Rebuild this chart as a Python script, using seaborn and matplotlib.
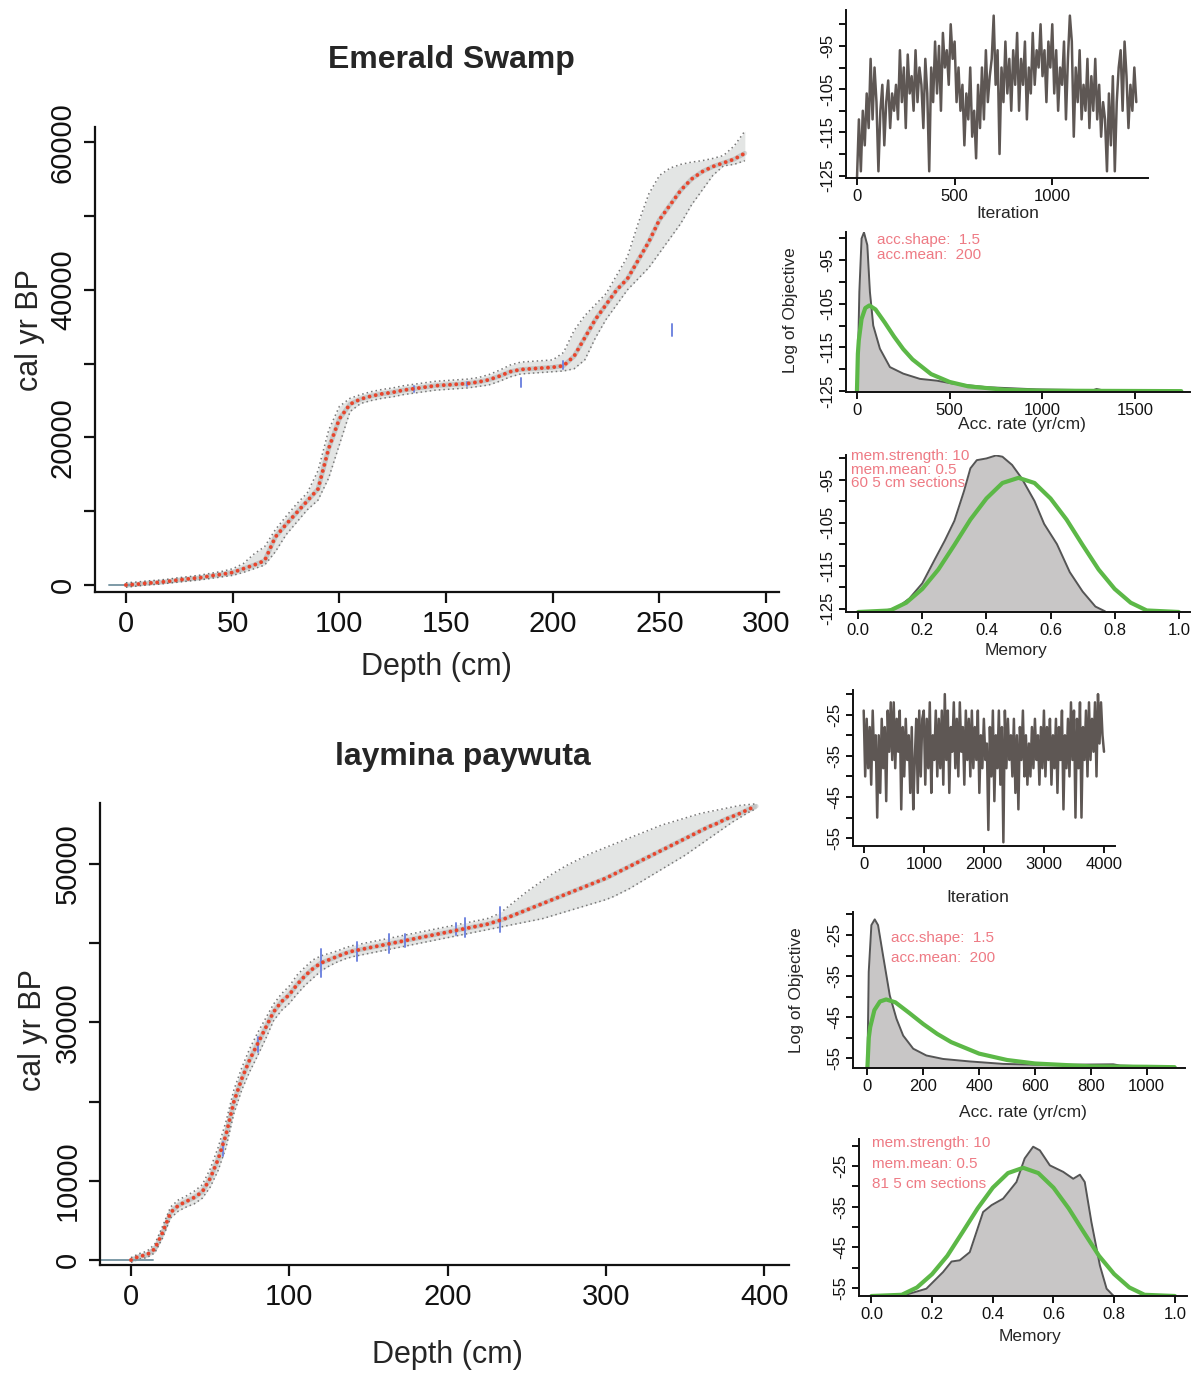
import matplotlib
matplotlib.use("Agg")
import matplotlib.pyplot as plt
import seaborn as sns

sns.set_theme(style="ticks")
plt.rcParams['font.family'] = ['Liberation Sans', 'DejaVu Sans']

# ---------------- data ----------------
# Emerald Swamp age-depth model (5 cm steps)
es_depth = list(range(0, 295, 5))
es_mean = [0, 100, 250, 350, 500, 700, 850, 1000, 1250, 1450, 1700, 2200, 2700, 3300,
           6500, 8200, 9800, 11400, 13000, 18500, 22500, 24500, 25200, 25600, 25900,
           26100, 26400, 26600, 26800, 27000, 27100, 27200, 27300, 27500, 27800, 28300,
           28900, 29200, 29300, 29400, 29500, 29700, 31000, 33500, 36000, 38000, 40000,
           41500, 44000, 46500, 49500, 51500, 53500, 55000, 56000, 56700, 57200, 57700, 58500]
es_hi = [300, 400, 550, 650, 800, 1000, 1150, 1350, 1600, 1850, 2200, 2900, 4200, 5200,
         7500, 9300, 11000, 12500, 15500, 21000, 24200, 25300, 25800, 26200, 26500,
         26700, 27000, 27200, 27400, 27600, 27700, 27800, 27900, 28100, 28500, 29100,
         29800, 30200, 30300, 30400, 30500, 31500, 34500, 36500, 38000, 39500, 42000,
         44500, 49000, 53000, 55500, 56500, 57000, 57300, 57500, 57800, 58200, 59500, 61500]
es_lo = [-300, -150, 0, 100, 250, 400, 550, 700, 900, 1100, 1300, 1700, 2200, 2700,
         4500, 6800, 8500, 10200, 11500, 14500, 19000, 23500, 24600, 25000, 25300,
         25500, 25800, 26000, 26200, 26400, 26500, 26600, 26700, 26900, 27100, 27600,
         28200, 28600, 28700, 28800, 28900, 29000, 29300, 30500, 33500, 36000, 38000,
         40000, 41500, 43000, 45000, 47000, 49000, 51500, 53500, 55500, 56800, 57000, 57500]
es_date_depth = [135, 160, 185, 205, 256]
es_date_age = [26500, 27200, 27400, 29800, 34500]
es_date_err = [400, 300, 600, 500, 800]
es_top_depth = [-8, 2]

# laymina paywuta age-depth model (5 cm steps)
lp_depth = list(range(0, 400, 5))
lp_mean = [0, 450, 650, 1400, 3500, 6000, 6900, 7400, 7900, 8600, 10300, 12700, 15800,
           20000, 22900, 25300, 27300, 29300, 31300, 32600, 33500, 34800, 35900, 36800,
           37500, 37900, 38300, 38700, 39000, 39200, 39400, 39600, 39800, 40000, 40200,
           40400, 40600, 40800, 41000, 41200, 41400, 41600, 41800, 42000, 42200, 42400,
           42700, 43000, 43400, 43800, 44200, 44600, 45000, 45400, 45800, 46200, 46600,
           47000, 47400, 47800, 48200, 48700, 49200, 49700, 50200, 50700, 51200, 51700,
           52200, 52700, 53200, 53700, 54200, 54700, 55100, 55600, 56000, 56400, 56900, 57300]
lp_hi = [300, 800, 1100, 2000, 4300, 6700, 7600, 8100, 8700, 9500, 11500, 14200, 17500,
         21500, 24300, 26700, 28700, 30500, 32300, 33600, 34600, 36000, 37000, 37900,
         38400, 38700, 39000, 39400, 39700, 39900, 40100, 40300, 40500, 40700, 40900,
         41100, 41300, 41500, 41700, 41900, 42100, 42300, 42500, 42700, 42900, 43100,
         43500, 44100, 44900, 45700, 46500, 47200, 47900, 48600, 49200, 49800, 50300,
         50800, 51300, 51700, 52100, 52500, 52900, 53300, 53700, 54100, 54500, 54900,
         55200, 55500, 55800, 56100, 56400, 56600, 56800, 57000, 57200, 57400, 57500, 57600]
lp_lo = [-300, 100, 300, 900, 2800, 5300, 6200, 6700, 7100, 7800, 9200, 11300, 14200,
         18500, 21500, 23800, 25800, 27900, 30200, 31500, 32400, 33600, 34700, 35600,
         36500, 37100, 37600, 38000, 38300, 38500, 38700, 38900, 39100, 39300, 39500,
         39700, 39900, 40100, 40300, 40500, 40700, 40900, 41100, 41300, 41500, 41700,
         41900, 42100, 42300, 42500, 42700, 42900, 43100, 43400, 43700, 44000, 44300,
         44600, 44900, 45200, 45500, 45900, 46400, 46900, 47500, 48100, 48700, 49300,
         49900, 50500, 51100, 51800, 52500, 53200, 53900, 54600, 55300, 55900, 56500, 57000]
lp_date_depth = [58, 80, 120, 143, 163, 173, 205, 211, 233]
lp_date_age = [14000, 27200, 37500, 39000, 40000, 40300, 41800, 42000, 43000]
lp_date_err = [900, 900, 1800, 1200, 1200, 800, 800, 1200, 1600]
lp_top_depth = [-19, 14]

# MCMC traces (log of objective)
es_iter = list(range(0, 1440, 10))
es_trace = [-126, -112, -124, -110, -118, -106, -114, -98, -112, -100,
            -108, -124, -110, -104, -118, -108, -103, -114, -106, -110,
            -104, -112, -96, -108, -100, -114, -97, -106, -102, -110,
            -96, -108, -100, -104, -114, -98, -106, -124, -100, -108,
            -94, -106, -95, -110, -92, -100, -96, -104, -90, -98,
            -94, -108, -100, -110, -104, -118, -106, -112, -100, -116,
            -110, -121, -104, -114, -100, -112, -96, -108, -102, -98,
            -88, -104, -96, -120, -100, -108, -94, -106, -98, -110,
            -96, -104, -92, -110, -98, -104, -94, -112, -100, -106,
            -92, -104, -96, -100, -90, -102, -96, -108, -94, -100,
            -90, -106, -96, -110, -100, -104, -94, -112, -98, -88,
            -94, -116, -100, -108, -96, -112, -104, -110, -98, -114,
            -102, -110, -98, -112, -104, -116, -108, -112, -124, -106,
            -118, -102, -124, -108, -100, -96, -110, -94, -102, -114,
            -104, -110, -100, -108]
lp_iter = list(range(0, 4025, 25))
lp_trace = [-24, -40, -26, -38, -28, -42, -24, -36, -30, -50,
            -30, -44, -26, -38, -28, -46, -24, -34, -22, -36,
            -22, -38, -26, -34, -24, -48, -28, -40, -26, -36,
            -30, -44, -28, -48, -36, -26, -44, -24, -40, -26,
            -24, -42, -26, -38, -22, -44, -30, -36, -24, -40,
            -26, -38, -24, -42, -20, -36, -24, -44, -28, -34,
            -22, -38, -26, -40, -22, -34, -28, -42, -24, -36,
            -26, -40, -24, -38, -28, -36, -24, -44, -30, -38,
            -26, -36, -32, -53, -28, -40, -24, -46, -30, -38,
            -24, -42, -28, -56, -24, -38, -26, -36, -30, -40,
            -26, -44, -30, -48, -28, -36, -24, -40, -30, -42,
            -32, -40, -28, -38, -26, -36, -30, -42, -28, -38,
            -24, -40, -28, -36, -26, -42, -30, -38, -26, -44,
            -28, -36, -24, -48, -30, -38, -26, -40, -22, -36,
            -24, -50, -26, -38, -22, -50, -28, -36, -24, -40,
            -22, -36, -26, -34, -22, -40, -20, -32, -22, -30,
            -34]

# accumulation rate posterior (grey) and prior (green), in axis units
es_acc_x = [2, 13, 25, 38, 56, 70, 88, 124, 178, 250, 340, 430, 520, 700, 969, 1275, 1293, 1329, 1743]
es_acc_y = [-125.0, -102.3, -90.1, -88.7, -91.6, -102.3, -110.0, -115.3, -119.5, -121.0,
            -122.2, -122.6, -123.3, -124.1, -124.6, -124.8, -124.5, -124.85, -125.1]
acc_prior_x = [0, 5, 10, 25, 45, 67, 100, 150, 200, 250, 300, 400, 500, 600, 800, 1000, 1750]
es_prior_y = [-125.0, -116.45, -113.4, -108.5, -106.0, -105.4, -106.3, -109.3, -112.5, -115.4,
              -117.75, -121.1, -122.9, -123.9, -124.7, -124.9, -125.0]
lp_acc_x = [0, 4.7, 14.2, 26.2, 38.1, 56, 80, 104, 128, 164, 211, 271, 366, 486, 605, 725, 880, 904, 1083]
lp_acc_y = [-57.2, -34.0, -22.6, -21.2, -22.6, -30.0, -39.7, -45.4, -49.5, -52.7, -54.35,
            -55.2, -55.8, -56.4, -56.6, -56.6, -56.5, -56.8, -57.2]
lp_prior_x = [0, 5, 10, 25, 45, 67, 100, 150, 200, 250, 300, 400, 500, 600, 800, 1000, 1100]
lp_prior_y = [-57.2, -50.0, -47.45, -43.3, -41.2, -40.7, -41.4, -44.0, -46.7, -49.1, -51.1,
              -53.9, -55.45, -56.3, -57.0, -57.1, -57.2]

# memory posterior (grey) and prior (green)
es_mem_x = [0.07, 0.12, 0.16, 0.20, 0.24, 0.27, 0.30, 0.33, 0.35, 0.37, 0.40, 0.43, 0.45,
            0.48, 0.51, 0.55, 0.58, 0.62, 0.66, 0.70, 0.74, 0.77]
es_mem_y = [-125.6, -124.85, -122.6, -119.1, -113.4, -109.2, -104.6, -97.7, -92.4, -90.5,
            -90.1, -89.4, -89.7, -91.6, -94.7, -100.0, -105.3, -110.0, -116.5, -121.0, -124.5, -125.6]
mem_prior_x = [0.0, 0.1, 0.15, 0.2, 0.25, 0.3, 0.35, 0.4, 0.45, 0.5,
               0.55, 0.6, 0.65, 0.7, 0.75, 0.8, 0.85, 0.9, 1.0]
es_mprior_y = [-125.76, -125.4, -123.6, -120.4, -115.9, -110.2, -104.3, -99.4, -95.8, -94.6,
               -95.8, -99.4, -104.3, -110.2, -115.9, -120.4, -123.6, -125.4, -125.76]
lp_mem_x = [0.104, 0.181, 0.236, 0.264, 0.291, 0.324, 0.368, 0.396, 0.434, 0.478, 0.505,
            0.533, 0.555, 0.588, 0.632, 0.665, 0.687, 0.703, 0.725, 0.753, 0.775, 0.797]
lp_mem_y = [-56.9, -55.2, -51.1, -48.5, -48.2, -46.2, -36.3, -34.6, -33.0, -28.9, -23.1,
            -20.2, -21.1, -24.8, -26.4, -28.1, -27.1, -28.9, -38.8, -49.5, -55.2, -56.9]
lp_mprior_y = [-57.0, -56.7, -54.9, -51.6, -47.1, -41.3, -35.4, -30.3, -26.7, -25.4,
               -26.7, -30.3, -35.4, -41.3, -47.1, -51.6, -54.9, -56.7, -57.0]

es_acc_text = ["acc.shape:  1.5", "acc.mean:  200"]
lp_acc_text = ["acc.shape:  1.5", "acc.mean:  200"]
es_mem_text = ["mem.strength: 10", "mem.mean: 0.5", "60 5 cm sections"]
lp_mem_text = ["mem.strength: 10", "mem.mean: 0.5", "81 5 cm sections"]

# ---------------- drawing ----------------
W, H = 1196, 1373
fig = plt.figure(figsize=(W / 100, H / 100), dpi=100)
fig.patch.set_facecolor('white')


def box(l, t, r, b):
    return [l / W, 1 - b / H, (r - l) / W, (b - t) / H]


def ftext(x, y, s, **kw):
    fig.text(x / W, 1 - y / H, s, **kw)


def style(ax, fs, tl, lw, pad=3):
    for s in ['top', 'right']:
        ax.spines[s].set_visible(False)
    for s in ['left', 'bottom']:
        ax.spines[s].set_linewidth(lw)
        ax.spines[s].set_color('#111111')
    ax.tick_params(which='both', direction='out', length=tl, width=lw,
                   labelsize=fs, colors='#111111', pad=pad)
    ax.tick_params(axis='y', labelrotation=90)
    for lab in ax.get_yticklabels():
        lab.set_va('center')
    ax.set_xlabel('')
    ax.set_ylabel('')
    ax.grid(False)


RED = '#e8452c'
BLUE = '#7286e0'
TRACE = '#5e5754'
GREEN = '#5cb847'
PINK = '#ee7a84'


def age_depth(ax, depth, mean, lo, hi, dd, da, de, top, xlim, ylim, xt, yt, ylab):
    ax.fill_between(depth, lo, hi, color='#c9cccb', alpha=0.5, lw=0)
    sns.lineplot(x=depth, y=lo, ax=ax, color='#777777', lw=1.1, linestyle=(0, (1, 2)), errorbar=None)
    sns.lineplot(x=depth, y=hi, ax=ax, color='#777777', lw=1.1, linestyle=(0, (1, 2)), errorbar=None)
    sns.lineplot(x=depth, y=mean, ax=ax, color='#333333', lw=3.4, alpha=0.18, errorbar=None)
    for d, a, e in zip(dd, da, de):
        ax.plot([d, d], [a - e, a + e], color=BLUE, lw=1.4)
    ax.plot(top, [0, 0], color='#7d9aa6', lw=1.4)
    sns.lineplot(x=depth, y=mean, ax=ax, color=RED, lw=2.8,
                 linestyle=(0, (0.01, 1.6)), dash_capstyle='round', errorbar=None)
    ax.set_xlim(*xlim)
    ax.set_ylim(*ylim)
    ax.set_xticks(xt)
    ax.set_yticks(yt)
    ax.set_yticklabels([str(v) if v in ylab else '' for v in yt])
    style(ax, 21, 8, 1.6, pad=5)


ax1 = fig.add_axes(box(95, 127, 779, 592))
age_depth(ax1, es_depth, es_mean, es_lo, es_hi, es_date_depth, es_date_age, es_date_err,
          es_top_depth, (-14.5, 306), (-950, 62060), [0, 50, 100, 150, 200, 250, 300],
          list(range(0, 70000, 10000)), [0, 20000, 40000, 60000])

ax2 = fig.add_axes(box(100, 803, 789, 1265))
age_depth(ax2, lp_depth, lp_mean, lp_lo, lp_hi, lp_date_depth, lp_date_age, lp_date_err,
          lp_top_depth, (-19.6, 415.7), (-630, 57700), [0, 100, 200, 300, 400],
          list(range(0, 60000, 10000)), [0, 10000, 30000, 50000])

ftext(451, 60, "Emerald Swamp", fontsize=23, fontweight='bold', ha='center', va='center')
ftext(463, 757, "laymina paywuta", fontsize=23, fontweight='bold', ha='center', va='center')
ftext(436, 667, "Depth (cm)", fontsize=22, ha='center', va='center')
ftext(447, 1355, "Depth (cm)", fontsize=22, ha='center', va='center')
ftext(30, 330, "cal yr BP", fontsize=22, ha='center', va='center', rotation=90)
ftext(33, 1030, "cal yr BP", fontsize=22, ha='center', va='center', rotation=90)


def trace(ax, it, val, xlim, ylim, xt, yt, ylab):
    sns.lineplot(x=it, y=val, ax=ax, color=TRACE, lw=1.8, errorbar=None)
    ax.set_xlim(*xlim)
    ax.set_ylim(*ylim)
    ax.set_xticks(xt)
    ax.set_yticks(yt)
    ax.set_yticklabels([str(v) if v in ylab else '' for v in yt])
    style(ax, 12, 5, 1.4)


def dens(ax, gx, gy, px_, py, base, xlim, ylim, xt, yt, ylab, xfmt=None):
    ax.fill_between(gx, base, gy, color='#c8c6c6', lw=0)
    sns.lineplot(x=gx, y=gy, ax=ax, color='#555555', lw=1.4, errorbar=None)
    sns.lineplot(x=px_, y=py, ax=ax, color=GREEN, lw=3.0, errorbar=None)
    ax.set_xlim(*xlim)
    ax.set_ylim(*ylim)
    ax.set_xticks(xt)
    if xfmt:
        ax.set_xticklabels([xfmt.format(v) for v in xt])
    ax.set_yticks(yt)
    ax.set_yticklabels([str(v) if v in ylab else '' for v in yt])
    style(ax, 12, 5, 1.4)


r1 = fig.add_axes(box(846, 10, 1148, 178))
trace(r1, es_iter, es_trace, (-56, 1490), (-125.55, -86.7), [0, 500, 1000],
      list(range(-125, -85, 5)), [-125, -115, -105, -95])
ftext(1008, 213, "Iteration", fontsize=12.5, ha='center', va='center')

r2 = fig.add_axes(box(846, 232, 1190, 392))
dens(r2, es_acc_x, es_acc_y, acc_prior_x, es_prior_y, -125.2, (-59, 1797), (-125.2, -88.6),
     [0, 500, 1000, 1500], list(range(-125, -85, 5)), [-125, -115, -105, -95])
ftext(1022, 425, "Acc. rate (yr/cm)", fontsize=12.5, ha='center', va='center')
ftext(790, 310, "Log of Objective", fontsize=12.5, ha='center', va='center', rotation=90)
for i, s in enumerate(es_acc_text):
    ftext(877, 240 + 15 * i, s, fontsize=11, color=PINK, ha='left', va='center')

r3 = fig.add_axes(box(846, 455, 1190, 612))
dens(r3, es_mem_x, es_mem_y, mem_prior_x, es_mprior_y, -125.76, (-0.038, 1.035), (-125.76, -89.3),
     [0, 0.2, 0.4, 0.6, 0.8, 1.0], list(range(-125, -85, 5)), [-125, -115, -105, -95], "{:.1f}")
ftext(1016, 650, "Memory", fontsize=12.5, ha='center', va='center')
for i, s in enumerate(es_mem_text):
    ftext(851, 456 + 13.5 * i, s, fontsize=11, color=PINK, ha='left', va='center')

r4 = fig.add_axes(box(853, 690, 1115, 846))
trace(r4, lp_iter, lp_trace, (-178, 4183), (-56.9, -19.0), [0, 1000, 2000, 3000, 4000],
      list(range(-55, -15, 5)), [-55, -45, -35, -25])
ftext(978, 898, "Iteration", fontsize=12.5, ha='center', va='center')

r5 = fig.add_axes(box(853, 912, 1185, 1068))
dens(r5, lp_acc_x, lp_acc_y, lp_prior_x, lp_prior_y, -57.4, (-51.6, 1137), (-57.4, -19.4),
     [0, 200, 400, 600, 800, 1000], list(range(-55, -15, 5)), [-55, -45, -35, -25])
ftext(1023, 1113, "Acc. rate (yr/cm)", fontsize=12.5, ha='center', va='center')
ftext(797, 990, "Log of Objective", fontsize=12.5, ha='center', va='center', rotation=90)
for i, s in enumerate(lp_acc_text):
    ftext(891, 938 + 20 * i, s, fontsize=11, color=PINK, ha='left', va='center')

r6 = fig.add_axes(box(859, 1139, 1187, 1296))
dens(r6, lp_mem_x, lp_mem_y, mem_prior_x, lp_mprior_y, -57.0, (-0.041, 1.04), (-57.0, -18.3),
     [0, 0.2, 0.4, 0.6, 0.8, 1.0], list(range(-55, -15, 5)), [-55, -45, -35, -25], "{:.1f}")
ftext(1030, 1337, "Memory", fontsize=12.5, ha='center', va='center')
for i, s in enumerate(lp_mem_text):
    ftext(872, 1143 + 20.5 * i, s, fontsize=11, color=PINK, ha='left', va='center')

fig.savefig("out.png", dpi=100, facecolor='white')
